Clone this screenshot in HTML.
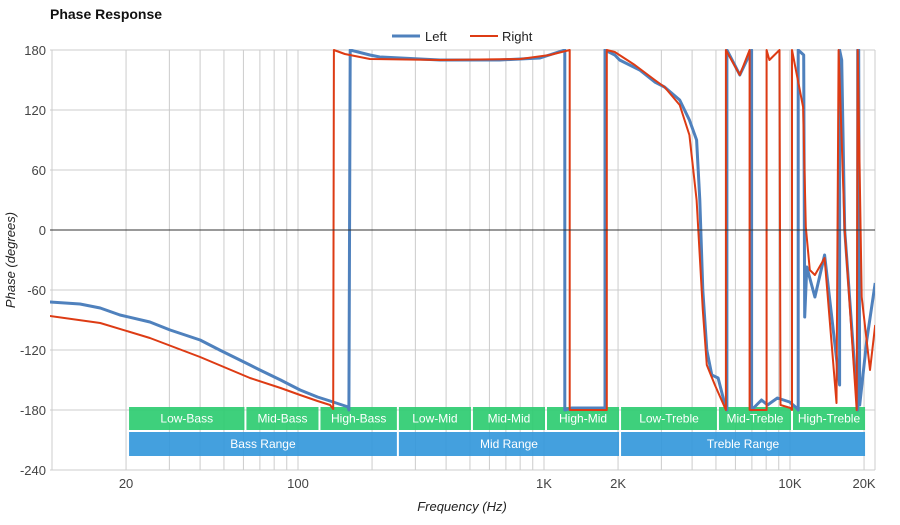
<!DOCTYPE html>
<html><head><meta charset="utf-8"><style>
body{margin:0;background:#fff;font-family:"Liberation Sans",sans-serif}
svg text{font-family:"Liberation Sans",sans-serif}
</style></head><body>
<svg id="chart" width="900" height="520" xmlns="http://www.w3.org/2000/svg">
<text x="50" y="19" font-size="14" font-weight="bold" fill="#111">Phase Response</text>
<g>
<g><line x1="392" y1="36" x2="420" y2="36" stroke="#4f81bd" stroke-width="3"/><text x="425" y="41" font-size="13" fill="#222">Left</text></g>
<g><line x1="470" y1="36" x2="498" y2="36" stroke="#dd3b14" stroke-width="2"/><text x="502" y="41" font-size="13" fill="#222">Right</text></g>
</g>
<g id="grid"></g>
<g id="bands"></g>
<g id="series"></g>
<g id="axes"></g>
<text x="462" y="511" font-size="13" font-style="italic" text-anchor="middle" fill="#222">Frequency (Hz)</text>
<text transform="translate(15,260) rotate(-90)" font-size="13" font-style="italic" text-anchor="middle" fill="#222">Phase (degrees)</text>
</svg>
<script>
const yTicks=[180,120,60,0,-60,-120,-180,-240];
const xTickVals=[20,100,1000,2000,10000,20000];
const xTickLabels=["20","100","1K","2K","10K","20K"];
const leftFreq=[9.8,13,15.7,18.9,25,30.2,40,48,63.8,70,85,102,120,135,160,161,163,196,215,378,661,963,1215,1215,1300,1500,1770,1770,1940,2030,2450,2820,3090,3560,3900,4170,4300,4420,4590,4810,5100,5440,5540,5540,5960,6250,6980,6980,7660,8100,8890,9960,10650,10800,10800,11370,11470,11700,12620,13830,15910,15910,16220,16680,18850,18850,19020,19200,20520,22200];
const leftVal=[-72,-74,-78,-85,-92,-100,-110,-120,-135,-140,-150,-160,-167,-171,-177,-180,180,175,173,170,170,172,180,-180,-178,-178,-178,180,175,170,160,148,143,130,110,90,30,-60,-120,-145,-148,-175,-180,180,165,155,180,-180,-170,-175,-168,-172,-178,-180,180,175,-87,-37,-67,-25,-155,180,170,0,-180,180,180,-175,-110,-53];
const rightFreq=[9.8,15.7,25,40,63.8,85,102,120,135,139,140,155,196,378,800,1056,1272,1272,1500,1800,1800,1940,2340,2820,3090,3560,3900,4170,4420,4590,4950,5490,5490,6250,6850,6850,8030,8030,8250,9060,9150,10050,10190,10190,11300,11590,12040,12620,13830,15460,15760,16680,18670,18850,19570,21150,22200];
const rightVal=[-86,-93,-108,-127,-148,-158,-165,-171,-175,-179,180,176,171,170,171,175,180,-180,-180,-180,180,178,165,150,143,125,95,30,-80,-135,-155,-180,180,155,180,-180,-180,180,170,180,-175,-178,-180,180,123,3,-40,-45,-28,-173,180,0,-180,180,-67,-140,-95];
const bandsTop=[["Low-Bass",20,60],["Mid-Bass",60,120],["High-Bass",120,250],["Low-Mid",250,500],["Mid-Mid",500,1000],["High-Mid",1000,2000],["Low-Treble",2000,5000],["Mid-Treble",5000,10000],["High-Treble",10000,20000]];
const bandsBottom=[["Bass Range",20,250],["Mid Range",250,2000],["Treble Range",2000,20000]];
const NS="http://www.w3.org/2000/svg";
const X0=50,X1=875,Y0=50,Y1=470;
function xs(f){return 298+(Math.log10(f)-2)*246;}
function ys(v){return 230-v;}
function mk(t,a,p){const e=document.createElementNS(NS,t);for(const k in a)e.setAttribute(k,a[k]);p.appendChild(e);return e;}
const grid=document.getElementById('grid');
const gridF=[];
for(let d=10;d<=10000;d*=10)for(let m=1;m<=9;m++){const f=d*m;if(f>=10&&f<=20000)gridF.push(f);}
gridF.forEach(f=>{const x=xs(f);if(x<X0||x>X1)return;const l=mk('line',{x1:x,x2:x,y1:Y0,y2:Y1,stroke:'#cccccc','stroke-width':1},grid);});
const axes=document.getElementById('axes');
yTicks.forEach(v=>{const y=ys(v);const l=mk('line',{x1:X0,x2:X1,y1:y,y2:y,stroke:v===0?'#333':'#cccccc','stroke-width':1},v===0?axes:grid);
const t=mk('text',{x:46,y:y+5,'font-size':13,'text-anchor':'end',fill:'#444'},axes);t.textContent=v;});
mk('line',{x1:X1,x2:X1,y1:Y0,y2:Y1,stroke:'#cccccc'},grid);
xTickVals.forEach((f,i)=>{const t=mk('text',{x:xs(f),y:488,'font-size':13,'text-anchor':'middle',fill:'#444'},axes);t.textContent=xTickLabels[i];});
const bands=document.getElementById('bands');
function band(arr,y,h,col){arr.forEach(b=>{const x1=xs(b[1])+3,x2=xs(b[2])+1;const r=mk('rect',{x:x1,y:y,width:x2-x1,height:h,fill:col,'fill-opacity':0.92},bands);
const t=mk('text',{x:(x1+x2)/2,y:y+h/2+4,'font-size':12,'text-anchor':'middle',fill:'#fff'},bands);t.textContent=b[0];});}
band(bandsTop,407,23,'#2ecc71');
band(bandsBottom,432,24,'#3498db');
const ser=document.getElementById('series');
mk('clipPath',{id:'clip'},ser);mk('rect',{x:X0,y:Y0-1,width:X1-X0,height:Y1-Y0+2},document.getElementById('clip'));
function line(fr,vals,col,w,name){const d=fr.map((f,i)=>(i?'L':'M')+xs(f).toFixed(1)+','+ys(vals[i]).toFixed(1)).join('');const p=mk('path',{d:d,fill:'none',stroke:col,'stroke-width':w,'stroke-linejoin':'round','clip-path':'url(#clip)'},ser);}
line(leftFreq,leftVal,'#4f81bd',3,'left-series-line');
line(rightFreq,rightVal,'#dd3b14',2,'right-series-line');
</script>
</body></html>
